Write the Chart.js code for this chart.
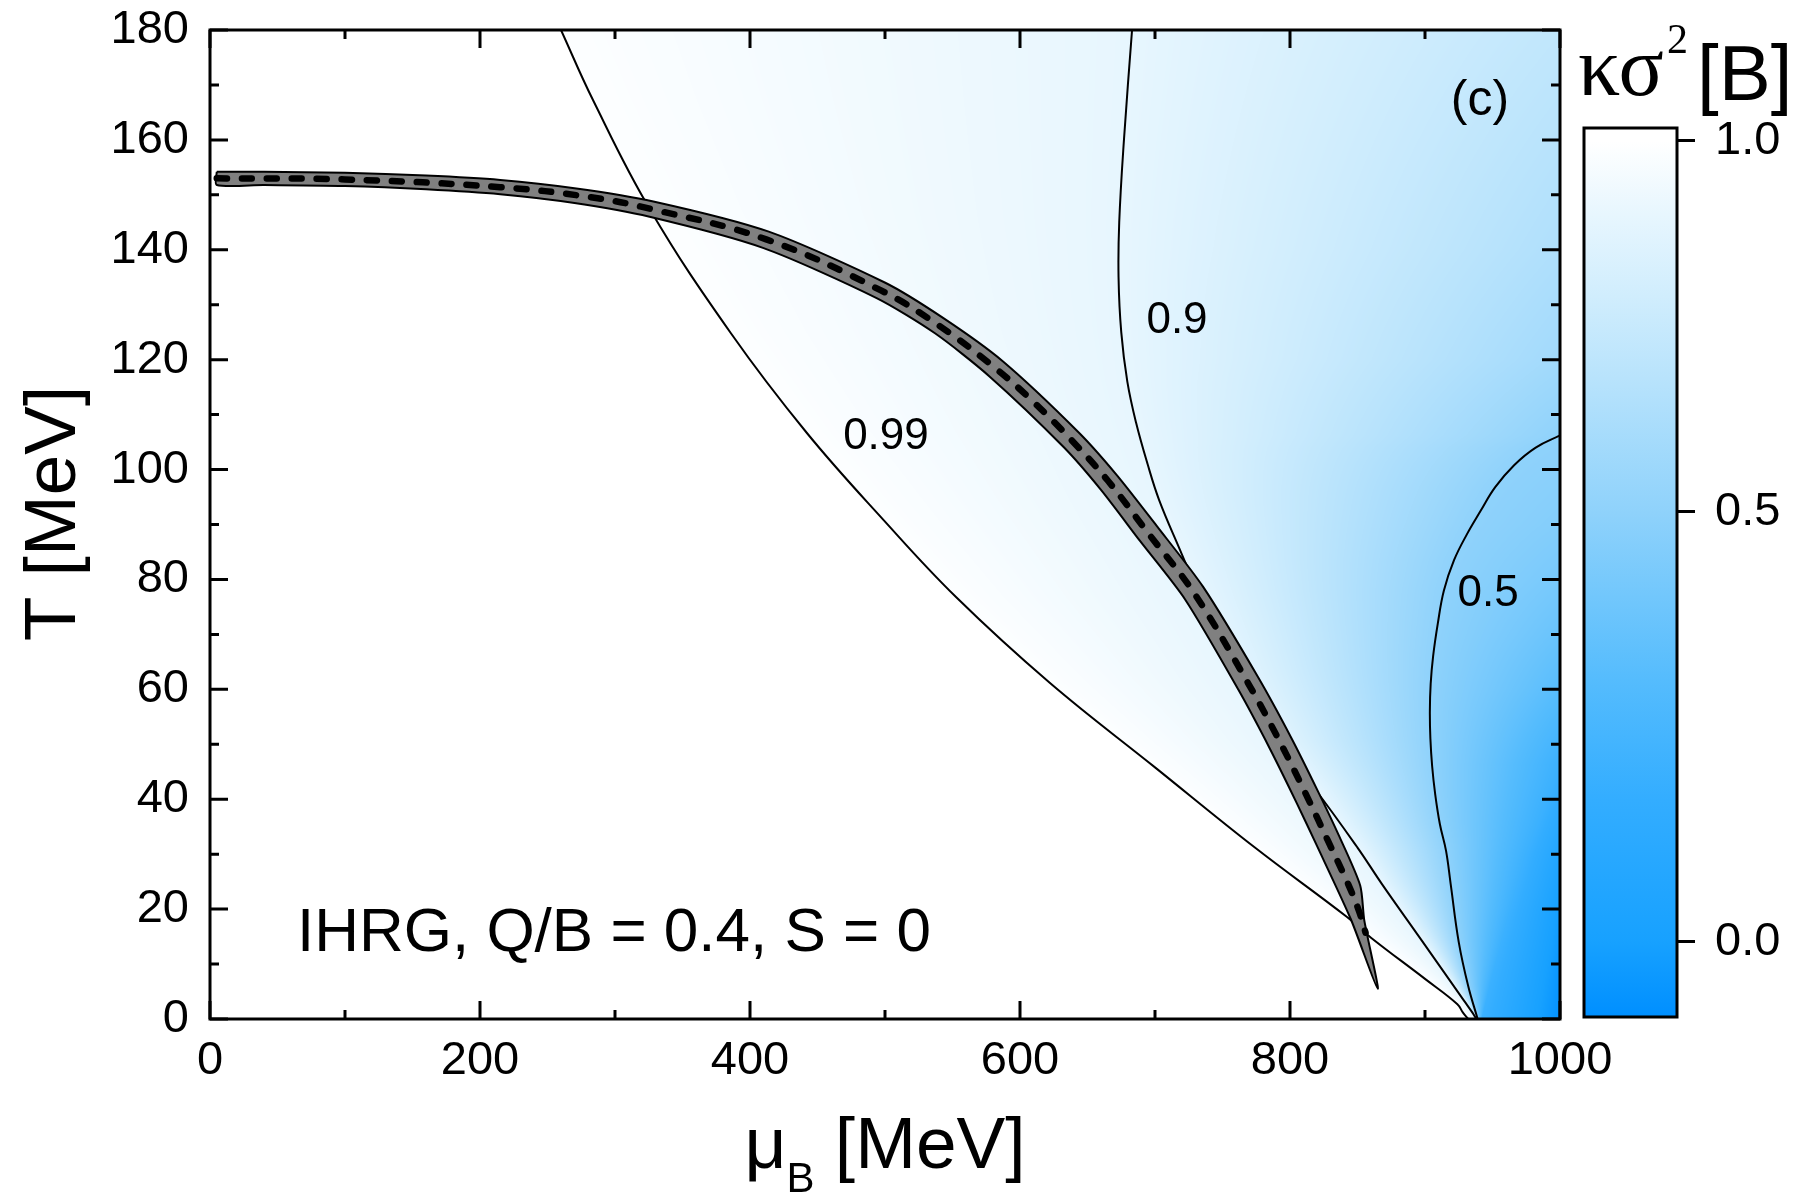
<!DOCTYPE html>
<html>
<head>
<meta charset="utf-8">
<script src="https://cdn.jsdelivr.net/npm/chart.js@4.4.1/dist/chart.umd.min.js"></script>
<style>
  html, body { margin: 0; padding: 0; background: #fff; }
  #wrap { position: relative; width: 1800px; height: 1200px; }
  #main { position: absolute; left: 0; top: 0; }
  #bar { position: absolute; left: 1560px; top: 0; }
</style>
</head>
<body>
<div id="wrap">
  <canvas id="main" width="1800" height="1200"></canvas>
  <canvas id="bar" width="240" height="1200"></canvas>
</div>
<script>
// axes
const muTicks = [0, 200, 400, 600, 800, 1000];
const muMinor = [100, 300, 500, 700, 900];
const tTicks = [0, 20, 40, 60, 80, 100, 120, 140, 160, 180];
const tMinor = [10, 30, 50, 70, 90, 110, 130, 150, 170];
const barTicks = [0.0, 0.5, 1.0];

// contour lines of kappa sigma^2 [B], muB and T in MeV
const c099Mu = [260, 283.6, 326, 385.6, 442, 499, 552.6, 622, 700, 774, 842, 860, 900, 924, 928, 932];
const c099T  = [180, 167.3, 147.3, 124.9, 106.7, 90.8, 76.8, 61.2, 45.8, 31.2, 18.6, 14.8, 7.3, 2.7, 1.2, 0];
const c090Mu = [683, 677, 673.5, 673, 675, 679.5, 686, 694.5, 703, 718.5, 735, 760, 790, 818, 850, 868, 897, 929, 935, 938];
const c090T  = [180, 160, 145, 135, 125, 116, 108.5, 101, 94.5, 85.4, 76, 63, 50.5, 42, 31.2, 24.6, 14.5, 3.3, 1.2, 0];
const c050Mu = [1000, 982, 966, 952, 941, 931, 921.5, 914, 909.5, 906, 904.2, 903.6, 904, 905.3, 907.5, 911, 915.6, 919, 925, 932, 939];
const c050T  = [106.2, 104, 100.8, 96.8, 92.4, 88.2, 83.5, 78, 72, 66, 61, 56, 51, 46, 41, 35.5, 30.6, 24.6, 14, 6, 0];
// not drawn as a line: where the shading reaches 0.2
const c020Mu = [942, 950, 961, 975, 990, 1000];
const c020T  = [0, 8, 18, 30, 40, 46];
// shading value along the right edge (muB = 1000)
const edgeT   = [0, 10, 20, 30, 40, 50, 60, 70, 80, 90, 106.2, 120, 140, 160, 180];
const edgeVal = [-0.08, -0.05, -0.01, 0.06, 0.15, 0.23, 0.31, 0.37, 0.42, 0.46, 0.5, 0.58, 0.64, 0.68, 0.72];

// freeze-out band (upper and lower edge) and its centre line
const bandUpMu = [5, 40, 100, 160, 215, 270, 328.4, 413.9, 500.2, 543, 586.8, 643.7, 672, 701.4, 735.8, 776.4, 800.9, 821, 836, 852, 855, 865];
const bandUpT  = [154.2, 154.2, 154.0, 153.5, 152.7, 151.2, 148.8, 143.3, 134.0, 127.6, 119.8, 106.7, 98.9, 89.7, 78.6, 62.2, 51.2, 41.3, 33.5, 24.3, 18, 5.5];
const bandLoMu = [5, 40, 100, 160, 215, 270, 325.6, 410.1, 493.8, 537, 577.2, 632.3, 660, 688.6, 722.2, 761.6, 785.1, 805, 820, 845];
const bandLoT  = [151.8, 151.8, 151.6, 151.0, 150.1, 148.5, 146.0, 140.3, 131.2, 124.8, 117.0, 104.1, 96.3, 87.1, 76.4, 60.0, 49.2, 39.3, 31.5, 18.2];
const lineMu = [5, 100, 215, 281, 327, 412, 497, 540, 582, 610, 638, 665, 695, 729, 769, 793, 813, 828, 843, 851, 856];
const lineT  = [153, 152.8, 151.4, 149.6, 147.4, 141.9, 132.6, 126.2, 118.4, 112.3, 105.4, 98, 88.4, 77.5, 61.1, 50.2, 40.3, 32.5, 24.6, 19.7, 15.7];

const SANS = "'Liberation Sans', Arial, Helvetica, sans-serif";
const SERIF = "'Liberation Serif', 'Times New Roman', serif";
Chart.defaults.font.family = SANS;
Chart.defaults.color = '#000';

// colour scale of the shading
const cmapVal = [-0.094, 0, 0.165, 0.305, 0.5, 0.68, 0.79, 0.9, 1.0];
const cmapCol = ['#008fff', '#17a1ff', '#33adff', '#55bcfd', '#8fd2fb', '#b8e3fc', '#d0edfd', '#e7f6fe', '#ffffff'];

function pts(mu, t) { return mu.map((m, i) => ({ x: m, y: t[i] })); }

function hexRgb(h) {
  const n = parseInt(h.slice(1), 16);
  return [(n >> 16) & 255, (n >> 8) & 255, n & 255];
}

function colourAt(v) {
  if (v <= cmapVal[0]) return hexRgb(cmapCol[0]);
  for (let i = 0; i < cmapVal.length - 1; i++) {
    if (v <= cmapVal[i + 1]) {
      const f = (v - cmapVal[i]) / (cmapVal[i + 1] - cmapVal[i]);
      const a = hexRgb(cmapCol[i]), b = hexRgb(cmapCol[i + 1]);
      return a.map((c, k) => Math.round(c + f * (b[k] - c)));
    }
  }
  return hexRgb(cmapCol[cmapCol.length - 1]);
}

function muAtT(mu, t, T) {
  for (let i = 0; i < t.length - 1; i++) {
    const hi = Math.max(t[i], t[i + 1]), lo = Math.min(t[i], t[i + 1]);
    if (T <= hi && T >= lo) {
      const f = t[i] === t[i + 1] ? 0 : (T - t[i]) / (t[i + 1] - t[i]);
      return mu[i] + f * (mu[i + 1] - mu[i]);
    }
  }
  return null;
}

function edgeAt(T) {
  for (let i = 0; i < edgeT.length - 1; i++) {
    if (T <= edgeT[i + 1]) {
      const f = (T - edgeT[i]) / (edgeT[i + 1] - edgeT[i]);
      return edgeVal[i] + f * (edgeVal[i + 1] - edgeVal[i]);
    }
  }
  return edgeVal[edgeVal.length - 1];
}

function rowKnots(T) {
  const k = [];
  const add = (m, v) => { if (m !== null) k.push([m, v]); };
  add(muAtT(c099Mu, c099T, T), 0.99);
  add(muAtT(c090Mu, c090T, T), 0.9);
  add(muAtT(c050Mu, c050T, T), 0.5);
  add(muAtT(c020Mu, c020T, T), 0.2);
  k.push([1000, edgeAt(T)]);
  for (let i = 1; i < k.length; i++) {
    if (k[i][0] < k[i - 1][0] + 0.01) k[i][0] = k[i - 1][0] + 0.01;
  }
  return k;
}

// shading under the lines
const fieldPlugin = {
  id: 'field',
  beforeDatasetsDraw(chart) {
    const { ctx, chartArea: a, scales: { x, y } } = chart;
    const w = Math.round(a.right - a.left), h = Math.round(a.bottom - a.top);
    const off = document.createElement('canvas');
    off.width = w; off.height = h;
    const octx = off.getContext('2d');
    const img = octx.createImageData(w, h);
    const lut = [];
    for (let i = 0; i <= 1200; i++) lut.push(colourAt(-0.1 + i * 0.001));
    const mus = [];
    for (let i = 0; i < w; i++) mus.push(x.getValueForPixel(a.left + i + 0.5));
    for (let j = 0; j < h; j++) {
      const k = rowKnots(y.getValueForPixel(a.top + j + 0.5));
      let s = 0;
      for (let i = 0; i < w; i++) {
        const m = mus[i];
        let v;
        if (m <= k[0][0]) v = 1;
        else {
          while (s < k.length - 2 && m > k[s + 1][0]) s++;
          if (m >= k[k.length - 1][0]) v = k[k.length - 1][1];
          else {
            const f = (m - k[s][0]) / (k[s + 1][0] - k[s][0]);
            v = k[s][1] + f * (k[s + 1][1] - k[s][1]);
          }
        }
        const idx = Math.max(0, Math.min(1200, Math.round((v + 0.1) * 1000)));
        const c = lut[idx];
        const p = (j * w + i) * 4;
        img.data[p] = c[0]; img.data[p + 1] = c[1]; img.data[p + 2] = c[2]; img.data[p + 3] = 255;
      }
    }
    octx.putImageData(img, 0, 0);
    ctx.drawImage(off, a.left, a.top);
  }
};

// frame and inward ticks on all four sides
const framePlugin = {
  id: 'frame',
  afterDatasetsDraw(chart) {
    const { ctx, chartArea: a, scales: { x, y } } = chart;
    ctx.save();
    ctx.strokeStyle = '#000';
    ctx.lineWidth = 3;
    ctx.beginPath();
    const xt = (list, len) => list.forEach(m => {
      const px = x.getPixelForValue(m);
      ctx.moveTo(px, a.bottom); ctx.lineTo(px, a.bottom - len);
      ctx.moveTo(px, a.top); ctx.lineTo(px, a.top + len);
    });
    const yt = (list, len) => list.forEach(t => {
      const py = y.getPixelForValue(t);
      ctx.moveTo(a.left, py); ctx.lineTo(a.left + len, py);
      ctx.moveTo(a.right, py); ctx.lineTo(a.right - len, py);
    });
    xt(muTicks, 18); xt(muMinor, 9);
    yt(tTicks, 18); yt(tMinor, 9);
    ctx.stroke();
    ctx.strokeRect(a.left, a.top, a.right - a.left, a.bottom - a.top);
    ctx.restore();
  }
};

// contour labels, panel text and axis titles
const textPlugin = {
  id: 'texts',
  afterDraw(chart) {
    const { ctx, chartArea: a, scales: { x, y } } = chart;
    const notes = [
      { text: '0.99', mu: 500.7, t: 106.0, size: 44 },
      { text: '0.9', mu: 716.3, t: 127.0, size: 44 },
      { text: '0.5', mu: 946.7, t: 77.4, size: 44 },
      { text: '(c)', mu: 940.7, t: 167.0, size: 50 }
    ];
    ctx.save();
    ctx.fillStyle = '#000';
    ctx.textAlign = 'center';
    ctx.textBaseline = 'middle';
    notes.forEach(n => {
      ctx.font = n.size + 'px ' + SANS;
      ctx.fillText(n.text, x.getPixelForValue(n.mu), y.getPixelForValue(n.t));
    });
    ctx.textAlign = 'left';
    ctx.textBaseline = 'alphabetic';
    ctx.font = '62px ' + SANS;
    ctx.fillText('IHRG, Q/B = 0.4, S = 0', x.getPixelForValue(64.4), y.getPixelForValue(12.4));

    // y title
    ctx.save();
    ctx.translate(a.left - 135, (a.top + a.bottom) / 2 - 11);
    ctx.rotate(-Math.PI / 2);
    ctx.textAlign = 'center';
    ctx.font = '73px ' + SANS;
    ctx.fillText('T [MeV]', 0, 0);
    ctx.restore();

    // x title: mu with subscript B
    ctx.font = '73px ' + SANS;
    const wMu = ctx.measureText('\u03bc').width;
    const wRest = ctx.measureText(' [MeV]').width;
    ctx.font = '42px ' + SANS;
    const wB = ctx.measureText('B').width;
    const x0 = (a.left + a.right) / 2 - (wMu + wB + wRest) / 2;
    const base = a.bottom + 149;
    ctx.font = '73px ' + SANS;
    ctx.fillText('\u03bc', x0, base);
    ctx.font = '42px ' + SANS;
    ctx.fillText('B', x0 + wMu, base + 24);
    ctx.font = '73px ' + SANS;
    ctx.fillText(' [MeV]', x0 + wMu + wB, base);
    ctx.restore();
  }
};

const lineStyle = { showLine: true, pointRadius: 0, borderColor: '#000', borderWidth: 2, tension: 0.4, fill: false };
const band = pts(bandUpMu, bandUpT)
  .concat(pts(bandLoMu, bandLoT).reverse())
  .concat([{ x: bandUpMu[0], y: bandUpT[0] }]);

new Chart(document.getElementById('main'), {
  type: 'scatter',
  data: {
    datasets: [
      Object.assign({}, lineStyle, { data: pts(lineMu, lineT), borderWidth: 6.5, borderDash: [10, 15], borderCapStyle: 'round', order: 0 }),
      Object.assign({}, lineStyle, { data: band, borderWidth: 2, backgroundColor: '#808080', fill: 'shape', tension: 0.25, order: 1 }),
      Object.assign({}, lineStyle, { data: pts(c099Mu, c099T), order: 2 }),
      Object.assign({}, lineStyle, { data: pts(c090Mu, c090T), order: 2 }),
      Object.assign({}, lineStyle, { data: pts(c050Mu, c050T), order: 2 })
    ]
  },
  options: {
    responsive: false,
    animation: false,
    events: [],
    layout: { padding: { left: 0, top: 30, right: 240, bottom: 0 } },
    plugins: { legend: { display: false }, tooltip: { enabled: false } },
    scales: {
      x: {
        type: 'linear', min: 0, max: 1000,
        afterBuildTicks: s => { s.ticks = muTicks.map(v => ({ value: v })); },
        afterFit: s => { s.height = 181; },
        grid: { display: false, drawTicks: false },
        border: { display: false },
        ticks: { padding: 14, maxRotation: 0, autoSkip: false, font: { size: 47 }, callback: v => String(v) }
      },
      y: {
        type: 'linear', min: 0, max: 180,
        afterBuildTicks: s => { s.ticks = tTicks.map(v => ({ value: v })); },
        afterFit: s => { s.width = 210; },
        grid: { display: false, drawTicks: false },
        border: { display: false },
        ticks: { padding: 21, font: { size: 47, lineHeight: 0.2 }, callback: v => String(v) }
      }
    }
  },
  plugins: [fieldPlugin, framePlugin, textPlugin]
});

// colour bar: its own scale is stretched between the labelled values
class ColourScale extends Chart.LinearScale {
  getPixelForValue(v) {
    const b = this.options.breaks;
    let d = 0;
    for (let i = 0; i < b.length - 1; i++) {
      if (v <= b[i + 1][0] || i === b.length - 2) {
        d = b[i][1] + (v - b[i][0]) / (b[i + 1][0] - b[i][0]) * (b[i + 1][1] - b[i][1]);
        break;
      }
    }
    return this.getPixelForDecimal(d);
  }
}
ColourScale.id = 'colourscale';
Chart.register(ColourScale);

const barPlugin = {
  id: 'colourbar',
  beforeDatasetsDraw(chart) {
    const { ctx, chartArea: a, scales: { y } } = chart;
    const g = ctx.createLinearGradient(0, a.bottom, 0, a.top);
    cmapVal.forEach((v, i) => {
      const off = (a.bottom - y.getPixelForValue(v)) / (a.bottom - a.top);
      g.addColorStop(Math.max(0, Math.min(1, off)), cmapCol[i]);
    });
    ctx.save();
    ctx.fillStyle = g;
    ctx.fillRect(a.left, a.top, a.right - a.left, a.bottom - a.top);
    ctx.strokeStyle = '#000';
    ctx.lineWidth = 3;
    ctx.strokeRect(a.left, a.top, a.right - a.left, a.bottom - a.top);
    ctx.restore();
  },
  afterDraw(chart) {
    const { ctx } = chart;
    ctx.save();
    ctx.fillStyle = '#000';
    ctx.textBaseline = 'alphabetic';
    ctx.font = '84px ' + SERIF;
    ctx.fillText('\u03ba\u03c3', 18, 95);
    ctx.font = '42px ' + SERIF;
    ctx.fillText('2', 107, 53);
    ctx.font = '78px ' + SANS;
    ctx.fillText('[B]', 137, 100);
    ctx.restore();
  }
};

new Chart(document.getElementById('bar'), {
  type: 'scatter',
  data: { datasets: [] },
  options: {
    responsive: false,
    animation: false,
    events: [],
    layout: { padding: { left: 24, top: 128, right: 0, bottom: 183 } },
    plugins: { legend: { display: false }, tooltip: { enabled: false } },
    scales: {
      x: { display: false },
      y: {
        type: 'colourscale', position: 'right', min: -0.094, max: 1.016,
        breaks: [[-0.094, 0], [0, 0.0844], [0.5, 0.5681], [1, 0.9854], [1.016, 1]],
        afterBuildTicks: s => { s.ticks = barTicks.map(v => ({ value: v })); },
        afterFit: s => { s.width = 123; },
        grid: { drawOnChartArea: false, drawTicks: true, tickLength: 18, lineWidth: 3, color: '#000' },
        border: { display: false },
        ticks: { padding: 20, font: { size: 47 }, callback: v => v.toFixed(1) }
      }
    }
  },
  plugins: [barPlugin]
});
</script>
</body>
</html>
